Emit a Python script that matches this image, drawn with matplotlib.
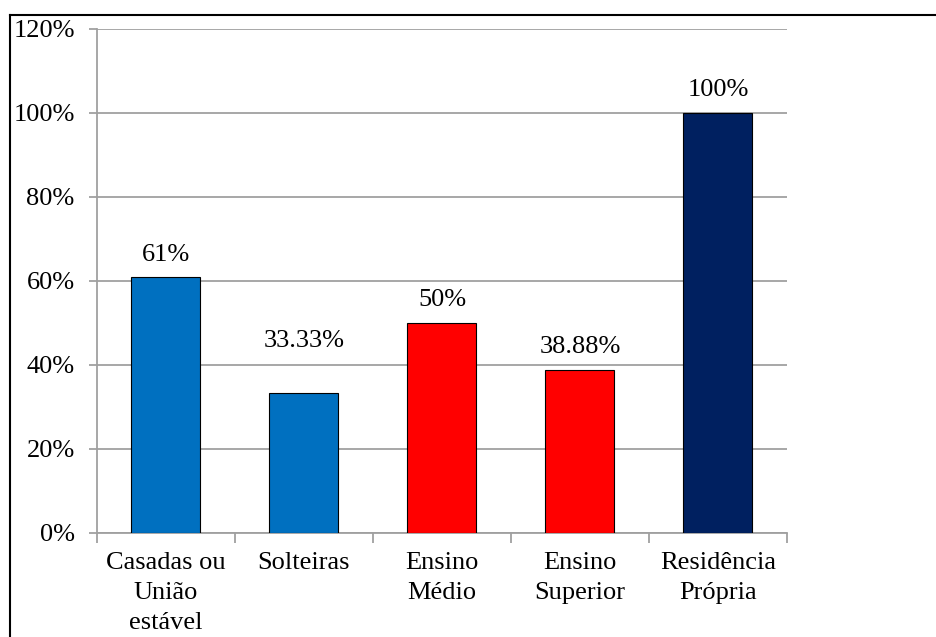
import matplotlib.pyplot as plt
from matplotlib.lines import Line2D
from matplotlib.ticker import FixedLocator, PercentFormatter

categories = ['Casadas ou\nUnião\nestável', 'Solteiras', 'Ensino\nMédio',
              'Ensino\nSuperior', 'Residência\nPrópria']
values = [61, 33.33, 50, 38.88, 100]
value_labels = ['61%', '33.33%', '50%', '38.88%', '100%']

bar_colors = ['#0070C0', '#0070C0', '#FF0000', '#FF0000', '#002060']
# extra lift (in points) for each value label above its bar
label_lift = [16, 37.5, 16.5, 16.5, 16.5]

plt.rcParams['font.family'] = ['Liberation Serif', 'DejaVu Serif']
FS = 19

fig = plt.figure(figsize=(9.36, 6.37), dpi=100)
ax = fig.add_axes([0.1036, 0.1633, 0.7372, 0.7912])

x = list(range(len(categories)))
ax.bar(x, values, width=0.5, color=bar_colors, edgecolor='black',
       linewidth=0.8, zorder=3)

for xi, v, lab, lift in zip(x, values, value_labels, label_lift):
    ax.annotate(lab, (xi, v), xytext=(0, lift), textcoords='offset points',
                ha='center', va='center', fontsize=FS, color='black')

ax.set_xlim(-0.5, len(categories) - 0.5)
ax.set_ylim(0, 120)
ax.set_yticks(range(0, 121, 20))
ax.yaxis.set_major_formatter(PercentFormatter(decimals=0))
ax.yaxis.grid(True, color='#A0A0A0', linewidth=1.3, zorder=0)

ax.set_xticks(x)
ax.set_xticklabels(categories, fontsize=FS, linespacing=1.45)
ax.xaxis.set_minor_locator(FixedLocator([i - 0.5 for i in range(len(categories) + 1)]))
ax.tick_params(axis='x', which='major', length=0, pad=14)
ax.tick_params(axis='x', which='minor', length=7, width=1.3, color='#A0A0A0')
ax.tick_params(axis='y', length=6, width=1.3, color='#A0A0A0', pad=10,
               labelsize=FS)

for side in ['top', 'right']:
    ax.spines[side].set_visible(False)
for side in ['left', 'bottom']:
    ax.spines[side].set_color('#A0A0A0')
    ax.spines[side].set_linewidth(1.3)

# outer frame (only left and top edges fall inside the picture)
fx = 9.5 / 936
fy = 1 - 14.5 / 637
fig.add_artist(Line2D([fx, fx], [0, fy], transform=fig.transFigure,
                      color='black', linewidth=1.5))
fig.add_artist(Line2D([fx, 1], [fy, fy], transform=fig.transFigure,
                      color='black', linewidth=1.5))

fig.savefig('out.png', dpi=100)
